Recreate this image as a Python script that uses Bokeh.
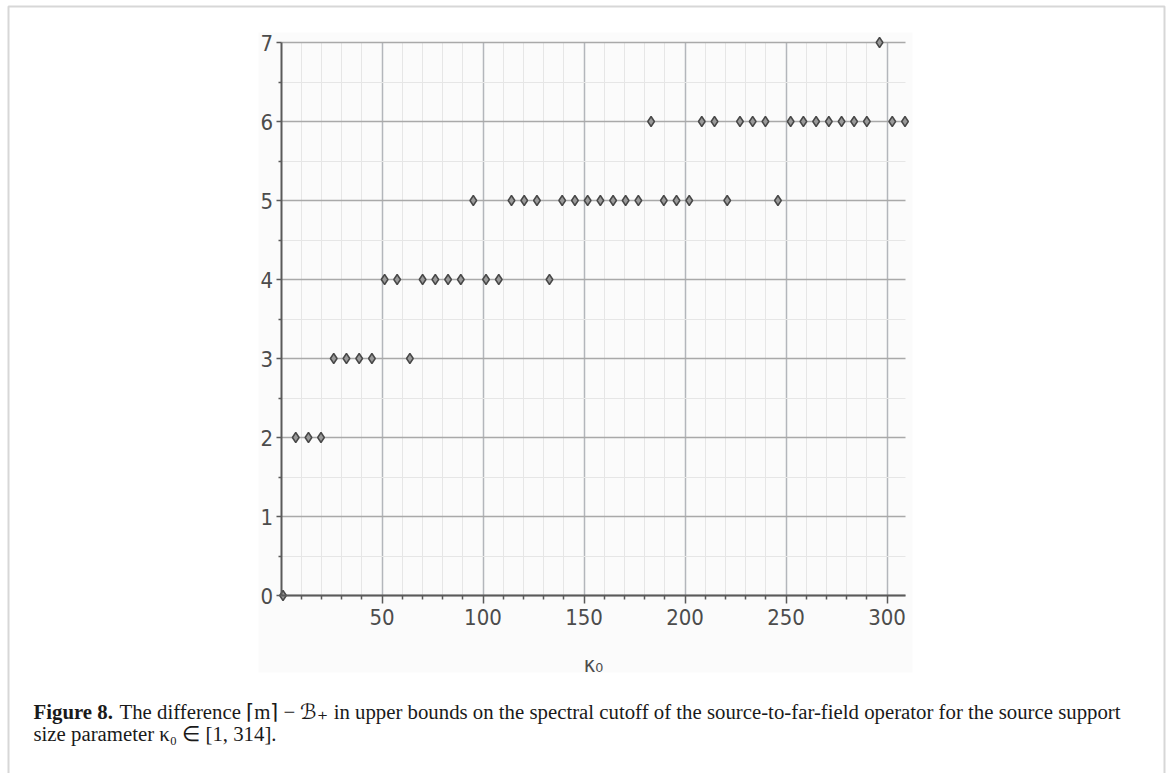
from bokeh.plotting import figure
from bokeh.models import (Range1d, FixedTicker, Label, BoxAnnotation, Grid,
                          LinearAxis)
from bokeh.embed import file_html
from bokeh.resources import INLINE

# source support size parameter kappa_0 (sampled on [1, 314])
kappa0 = [1.0, 7.3, 13.6, 19.8, 26.1, 32.4, 38.7, 45.0, 51.3, 57.5,
          63.8, 70.1, 76.4, 82.7, 89.0, 95.2, 101.5, 107.8, 114.1, 120.4,
          126.7, 132.9, 139.2, 145.5, 151.8, 158.1, 164.4, 170.6, 176.9, 183.2,
          189.5, 195.8, 202.1, 208.3, 214.6, 220.9, 227.2, 233.5, 239.8, 246.0,
          252.3, 258.6, 264.9, 271.2, 277.5, 283.7, 290.0, 296.3, 302.6, 308.9]

# difference between the two upper bounds on the spectral cutoff
difference = [0, 2, 2, 2, 3, 3, 3, 3, 4, 4,
              3, 4, 4, 4, 4, 5, 4, 4, 5, 5,
              5, 4, 5, 5, 5, 5, 5, 5, 5, 6,
              5, 5, 5, 6, 6, 5, 6, 6, 6, 5,
              6, 6, 6, 6, 6, 6, 6, 7, 6, 6]

x_major = [50, 100, 150, 200, 250, 300]
x_minor = [v for v in range(10, 310, 10) if v % 50 != 0]
y_major = [0, 1, 2, 3, 4, 5, 6, 7]
y_minor = [0.5, 1.5, 2.5, 3.5, 4.5, 5.5, 6.5]
x_lim = (0, 308.9)
y_lim = (0, 7)

W, H = 1170, 773
# pixel box of the plotting area on the page
PX0, PX1 = 280.5, 904.5
PY0, PY1 = 595.0, 42.0
sx = (PX1 - PX0) / (x_lim[1] - x_lim[0])
sy = (PY0 - PY1) / (y_lim[1] - y_lim[0])

# the frame covers the whole page; the axes sit at fixed data locations
p = figure(width=W, height=H, output_backend="svg", toolbar_location=None,
           x_axis_location=None, y_axis_location=None, min_border=0,
           x_range=Range1d(x_lim[0] - PX0 / sx, x_lim[0] + (W - PX0) / sx),
           y_range=Range1d(y_lim[0] - (H - PY0) / sy, y_lim[0] + PY0 / sy))
p.outline_line_color = None
p.background_fill_color = "white"
p.border_fill_color = "white"
p.center = [r for r in p.center if not isinstance(r, Grid)]

tick_font = "DejaVu Sans Condensed, DejaVu Sans"
axis_color = "#5a5a5a"
label_color = "#4c4c4c"

# faint backdrop of the plot image
p.add_layout(BoxAnnotation(left=258, right=912, top=H - 32, bottom=H - 672,
                           left_units="screen", right_units="screen",
                           top_units="screen", bottom_units="screen",
                           fill_color="#fbfbfb", fill_alpha=1.0,
                           line_color=None, level="image"))

# grid
xg = Grid(dimension=0, ticker=FixedTicker(ticks=x_major, minor_ticks=x_minor),
          bounds=x_lim, grid_line_color="#b3b6bb", grid_line_width=1.5,
          minor_grid_line_color="#e6e6e6", minor_grid_line_width=1)
yg = Grid(dimension=1, ticker=FixedTicker(ticks=y_major, minor_ticks=y_minor),
          bounds=y_lim, grid_line_color="#a9a9a9", grid_line_width=1.5,
          minor_grid_line_color="#e6e6e6", minor_grid_line_width=1)
if "cross_bounds" in Grid.properties():
    xg.cross_bounds = y_lim
    yg.cross_bounds = x_lim
    p.add_layout(xg)
    p.add_layout(yg)
else:
    p.segment(x0=x_minor, x1=x_minor, y0=y_lim[0], y1=y_lim[1],
              line_color="#e6e6e6", line_width=1, level="underlay")
    p.segment(x0=x_lim[0], x1=x_lim[1], y0=y_minor, y1=y_minor,
              line_color="#e6e6e6", line_width=1, level="underlay")
    p.segment(x0=x_major, x1=x_major, y0=y_lim[0], y1=y_lim[1],
              line_color="#b3b6bb", line_width=1.5, level="underlay")
    p.segment(x0=x_lim[0], x1=x_lim[1], y0=y_major, y1=y_major,
              line_color="#a9a9a9", line_width=1.5, level="underlay")

xaxis = LinearAxis(fixed_location=0, bounds=x_lim,
                   ticker=FixedTicker(ticks=x_major, minor_ticks=x_minor))
yaxis = LinearAxis(fixed_location=0, bounds=y_lim,
                   ticker=FixedTicker(ticks=y_major, minor_ticks=y_minor))
for ax in (xaxis, yaxis):
    ax.axis_line_color = axis_color
    ax.axis_line_width = 2
    ax.major_tick_line_color = axis_color
    ax.major_tick_line_width = 1.5
    ax.minor_tick_line_color = axis_color
    ax.minor_tick_line_width = 1.5
    ax.major_tick_in = 0
    ax.minor_tick_in = 0
    ax.major_label_text_font = tick_font
    ax.major_label_text_font_size = "22px"
    ax.major_label_text_color = label_color
xaxis.major_tick_out = 8
xaxis.minor_tick_out = 4
yaxis.major_tick_out = 5
yaxis.minor_tick_out = 3
xaxis.major_label_standoff = 5
yaxis.major_label_standoff = 3
xaxis.axis_label = "κ₀"
xaxis.axis_label_text_font = tick_font
xaxis.axis_label_text_font_style = "normal"
xaxis.axis_label_text_font_size = "22px"
xaxis.axis_label_text_color = label_color
xaxis.axis_label_standoff = 24
p.add_layout(xaxis, "below")
p.add_layout(yaxis, "left")

p.scatter(kappa0, difference, marker="diamond", size=10,
          fill_color="#9a9a9a", line_color="#484848", line_width=1.5)

# figure frame (open at the bottom of the page)
p.add_layout(BoxAnnotation(left=8, right=1164, top=H - 6, bottom=-30,
                           left_units="screen", right_units="screen",
                           top_units="screen", bottom_units="screen",
                           fill_alpha=0, line_color="#7c7c7c", line_width=2))

cap_font = "Liberation Serif"
cap_size = "20.8px"
cap_color = "#1a1a1a"
cap1_y = H - 711
cap2_y = H - 733
p.add_layout(Label(x=33, y=cap1_y, x_units="screen", y_units="screen",
                   text="Figure 8.", text_font=cap_font, text_font_size=cap_size,
                   text_font_style="bold", text_color=cap_color,
                   text_baseline="alphabetic"))
p.add_layout(Label(x=119, y=cap1_y, x_units="screen", y_units="screen",
                   text="The difference ⌈m⌉ − ℬ₊ in upper bounds on the spectral cutoff "
                        "of the source-to-far-field operator for the source support",
                   text_font=cap_font, text_font_size=cap_size, text_color=cap_color,
                   text_baseline="alphabetic"))
p.add_layout(Label(x=33, y=cap2_y, x_units="screen", y_units="screen",
                   text="size parameter κ₀ ∈ [1, 314].",
                   text_font=cap_font, text_font_size=cap_size, text_color=cap_color,
                   text_baseline="alphabetic"))

open("out.html", "w").write(file_html(p, INLINE))
